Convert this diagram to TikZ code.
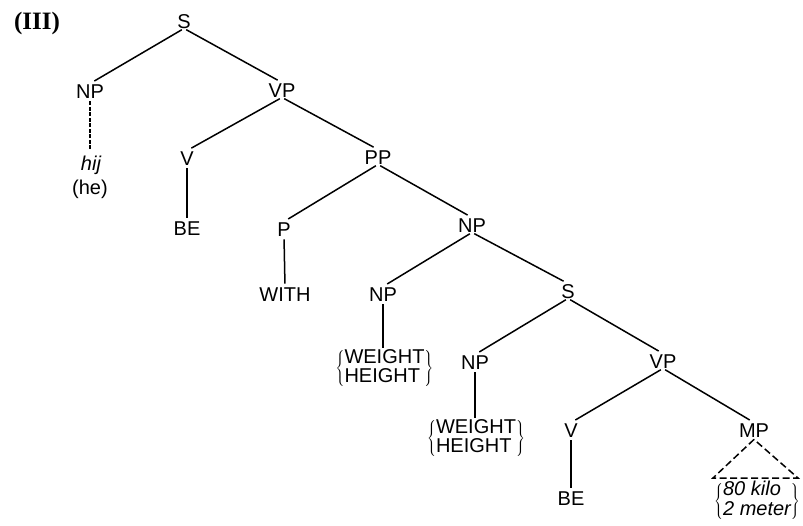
\documentclass[tikz,border=0pt]{standalone}
\usepackage{fontspec}
\setmainfont{Liberation Sans}
\newfontfamily\labelserif{Liberation Serif}
\begin{document}
\begin{tikzpicture}[x=1pt,y=-1pt,
  lab/.style={inner sep=0pt, text height=14.5pt, text depth=0pt,
              font=\fontsize{20}{19}\selectfont},
  word/.style={inner sep=0pt, font=\fontsize{20}{19}\selectfont},
  branch/.style={line width=1.5pt, shorten <=2.5pt, shorten >=5pt},
  stem/.style={line width=1.5pt, shorten <=3pt, shorten >=3pt},
  brokenstem/.style={stem, dash pattern=on 4pt off 1.5pt}]
\useasboundingbox (0,0) rectangle (803,525);

% heading
\node[inner sep=0pt, font=\labelserif\bfseries\fontsize{25}{25}\selectfont] (num) at (37,23) {(III)};

% category labels
\node[lab] (s)   at (184,21)  {S};
\node[lab] (np1) at (90,91)   {NP};
\node[lab] (vp1) at (282,90)  {VP};
\node[lab] (v1)  at (187,158) {V};
\node[lab] (pp)  at (378,157) {PP};
\node[lab] (p)   at (284,229) {P};
\node[lab] (np2) at (472,225) {NP};
\node[lab] (np3) at (383,294) {NP};
\node[lab] (s2)  at (568,291) {S};
\node[lab] (np4) at (475,362) {NP};
\node[lab] (vp2) at (663,361) {VP};
\node[lab] (v2)  at (571,430) {V};
\node[lab] (mp)  at (754,430) {MP};

% terminals
\node[word, anchor=base] (hij)  at (91,170)  {\itshape hij};
\node[word, anchor=base] (he)   at (90,194)  {(he)};
\node[lab] (be1)  at (187,228) {BE};
\node[lab] (with) at (285,294) {WITH};
\node[lab] (be2)  at (571,498) {BE};
\node[word, anchor=north] (wh1) at (384.5,349)
  {$\left\{\mbox{\begin{tabular}{@{}l@{}}WEIGHT\\HEIGHT\end{tabular}}\right\}$};
\node[word, anchor=north] (wh2) at (476,419)
  {$\left\{\mbox{\begin{tabular}{@{}l@{}}WEIGHT\\HEIGHT\end{tabular}}\right\}$};
\node[word, anchor=north] (mv) at (757,481)
  {$\left\{\mbox{\itshape\begin{tabular}{@{}l@{}}80 kilo\\2 meter\end{tabular}}\right\}$};

% branches
\draw[branch] (s.south) -- (np1.north);
\draw[branch] (s.south) -- (vp1.north);
\draw[branch] (vp1.south) -- (v1.north);
\draw[branch] (vp1.south) -- (pp.north);
\draw[branch] (pp.south) -- (p.north);
\draw[branch] (pp.south) -- (np2.north);
\draw[branch] (np2.south) -- (np3.north);
\draw[branch] (np2.south) -- (s2.north);
\draw[branch] (s2.south) -- (np4.north);
\draw[branch] (s2.south) -- (vp2.north);
\draw[branch] (vp2.south) -- (v2.north);
\draw[branch] (vp2.south) -- (mp.north);

% unary stems
\draw[brokenstem, shorten >=6pt] (np1.south) -- (np1.south |- hij.north);
\draw[stem] (v1.south) -- (be1.north);
\draw[stem] (p.south) -- (with.north);
\draw[stem, shorten >=1pt] (np3.south) -- (np3.south |- wh1.north);
\draw[stem, shorten >=1pt] (np4.south) -- (np4.south |- wh2.north);
\draw[stem] (v2.south) -- (be2.north);

% abbreviated constituent
\coordinate (mpl) at (713,478);
\coordinate (mpr) at (798,478);
\draw[line width=1.5pt, dash pattern=on 7pt off 3.5pt, shorten <=2pt]
  ([yshift=-2pt]mp.south) -- (mpl) -- (mpr) -- cycle;
\end{tikzpicture}
\end{document}
